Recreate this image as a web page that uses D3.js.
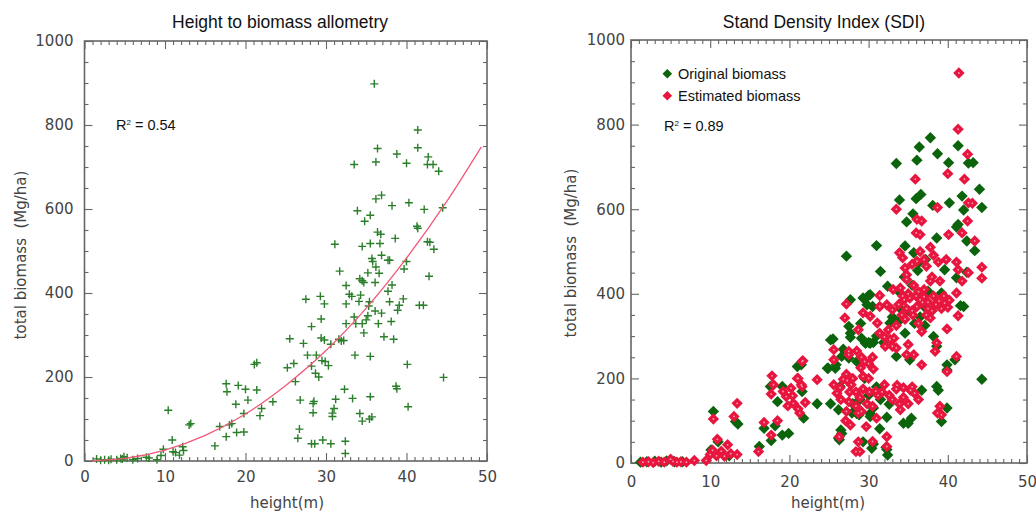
<!DOCTYPE html>
<html>
<head>
<meta charset="utf-8">
<script src="https://cdn.jsdelivr.net/npm/d3@7/dist/d3.min.js"></script>
<style>
  html, body { margin: 0; padding: 0; background: #fff; }
  svg { display: block; }
</style>
</head>
<body>
<svg id="chart" width="1036" height="513"></svg>
<script>
// ---------------- DATA ----------------
const xMajorTicks = [0, 10, 20, 30, 40, 50];
const yMajorTicks = [0, 200, 400, 600, 800, 1000];
const leftTitle = "Height to biomass allometry";
const rightTitle = "Stand Density Index (SDI)";
const leftR2 = "0.54";
const rightR2 = "0.89";
const seriesNames = ["Original biomass", "Estimated biomass"];

// Left panel: height (m), total biomass (Mg/ha)
const allometryPoints = [
  [36.0,898],[41.4,788],[41.4,746],[36.4,744],[38.8,731],[36.2,712],[33.5,706],[40.0,709],
  [42.7,724],[42.6,706],[43.3,706],[44.0,690],[36.9,633],[36.2,624],[33.9,596],[38.2,608],
  [40.3,615],[42.2,599],[44.5,603],[35.5,585],[34.8,571],[41.3,559],[41.4,554],[36.4,545],
  [36.8,540],[31.1,516],[34.5,511],[35.5,518],[36.7,518],[38.6,530],[42.6,522],[42.9,521],
  [43.4,504],[36.9,490],[35.7,482],[35.8,475],[37.7,478],[37.9,478],[40.0,475],[39.7,457],
  [31.7,452],[36.2,462],[36.6,447],[35.2,448],[34.2,434],[34.7,425],[34.5,429],[36.1,425],
  [32.5,418],[38.2,419],[32.9,397],[33.2,392],[34.3,395],[37.7,404],[42.8,440],[29.3,392],
  [27.5,385],[29.8,374],[32.5,374],[34.1,380],[35.4,379],[35.3,369],[37.9,379],[39.6,386],
  [39.1,371],[41.6,371],[42.1,371],[38.9,359],[36.1,357],[36.9,352],[35.2,346],[33.5,343],
  [35.0,336],[29.4,338],[32.5,327],[33.7,327],[34.5,327],[36.5,327],[38.1,332],[28.2,320],
  [34.7,305],[25.5,291],[29.4,293],[29.8,288],[27.2,280],[30.6,278],[31.6,290],[31.9,286],
  [32.2,287],[37.2,296],[38.4,290],[27.7,252],[28.8,252],[33.6,252],[35.5,249],[28.2,226],
  [29.5,239],[29.9,237],[30.3,227],[26.0,232],[25.2,222],[21.4,234],[21.1,230],[40.1,230],
  [28.7,209],[29.1,200],[26.2,189],[44.6,199],[17.6,184],[19.1,180],[20.0,171],[17.7,165],
  [21.4,169],[32.3,171],[38.7,178],[38.8,172],[20.3,145],[23.4,141],[26.8,145],[28.5,142],
  [28.4,137],[31.2,147],[33.3,149],[35.5,153],[18.8,135],[22.0,125],[31.0,125],[40.2,129],
  [10.4,121],[28.4,115],[30.8,114],[30.8,106],[34.2,113],[19.8,113],[21.8,108],[35.7,105],
  [35.4,100],[34.5,95],[13.2,89],[13.0,86],[18.3,89],[18.0,86],[16.8,82],[26.7,76],
  [18.9,68],[19.8,69],[17.6,58],[26.5,54],[10.9,50],[28.2,41],[28.6,41],[29.6,50],
  [30.6,41],[32.4,47],[32.4,18],[16.2,36],[9.8,28],[11.0,22],[11.3,20],[12.2,34],
  [12.3,25],[11.8,14],[9.5,13],[7.7,9],[6.6,6],[4.9,10],[4.7,5],[1.5,5],[2.0,2],
  [2.5,3],[3.0,2],[3.3,4],[4.0,3],[4.5,6],[5.3,8],[6.0,3],[8.0,7],[9.0,3]
];

// Fitted allometric curve
const fitCurve = [
  [1,0.5],[5,6],[10,26],[15,61],[20,112],[25,180],[30,263],[35,364],[40,483],[45,618],[49.3,748]
];

// Right panel: original biomass
const originalPoints = [
  [1.2,2],[2.0,3],[3.0,4],[3.8,2],[4.5,5],[5.5,3],[6.5,3],
  [10.1,31],[10.4,122],[11.0,50],[12.4,17],[13.5,92],[13.2,98],[16.2,39],[16.8,82],
  [17.6,181],[17.7,53],[18.5,145],[19.1,181],[19.1,66],[19.9,70],[18.2,88],[21.0,228],
  [21.5,232],[21.8,106],[21.6,169],[23.5,140],[24.8,224],[25.2,291],
  [37.8,769],[41.3,750],[36.4,747],[38.7,731],[36.1,716],[33.5,708],[40.1,710],[42.6,709],
  [43.2,710],[44.0,647],[44.3,604],[33.9,622],[36.0,625],[36.6,635],[38.1,609],[40.2,615],
  [41.8,631],[42.0,598],[34.8,570],[35.6,589],[41.1,558],[41.3,564],[38.6,532],[42.4,525],
  [43.4,502],[27.2,489],[31.0,514],[34.6,513],[31.5,453],[35.7,497],[37.2,481],[36.3,473],
  [39.6,457],[41.1,438],[42.4,451],[32.4,418],[30.2,398],[29.3,390],[29.8,374],[27.7,386],
  [34.0,402],[37.5,406],[39.2,402],[41.6,372],[42.0,370],[32.7,331],[33.8,335],[27.5,323],
  [27.7,307],[25.5,293],[27.7,297],[29.1,295],[29.6,283],[30.2,283],[31.9,285],[34.6,307],
  [37.1,325],[38.2,299],[38.6,276],[26.8,269],[27.5,248],[25.8,224],[24.9,224],[33.5,252],
  [35.2,244],[39.9,232],[39.9,220],[40.9,244],[38.6,181],[38.8,172],[36.7,172],[44.3,198],
  [26.4,181],[25.2,140],[26.2,126],[27.9,118],[28.8,114],[30.2,110],[30.6,130],[32.6,139],
  [34.4,94],[35.4,106],[35.0,94],[39.2,98],[39.9,130],[26.5,78],[26.2,59],[29.3,50],
  [30.4,35],[32.4,19],[32.3,32],[34.5,440],[35.5,420],[36.2,455],[35.0,360],[36.5,345],
  [37.0,370],[33.0,345],[38.0,360],[35.8,330],[34.0,365],[36.8,395],[30.5,370],[29.0,330],
  [31.0,300],[28.5,240],[27.0,200],[30.0,160],[31.0,180],[28.0,140],[29.5,200],[31.5,150],
  [25.9,232],[26.6,252],[30.0,396],[30.0,285],[30.6,285],[28.9,150],[30.2,117],[31.4,81],
  [32.3,108],[32.2,37],[30.6,45],[28.5,117],[28.2,137],[26.6,70],[26.3,55]
];

// Right panel: estimated biomass
const estimatedPoints = [
  [1.5,2],[2.2,3],[2.8,1],[3.5,4],[4.2,2],[5.0,9],[5.3,4],[5.8,2],[6.3,3],[7.0,2],[8.0,6],[9.5,6],
  [10.4,104],[10.9,56],[10.0,20],[10.3,30],[11.4,28],[12.2,43],[12.6,22],[11.8,16],[10.8,17],
  [13.4,20],[13.0,110],[13.4,141],[16.8,96],[16.1,27],[17.7,66],[17.8,206],[18.0,185],
  [17.7,163],[18.5,100],[19.2,169],[19.8,135],[19.6,157],[20.2,177],[20.4,159],[21.0,200],
  [21.5,185],[21.7,242],[22.0,143],[23.5,197],
  [41.4,922],[41.3,789],[42.5,730],[40.0,684],[35.9,671],[42.1,671],[33.5,600],[38.7,604],
  [42.6,615],[43.1,614],[42.5,572],[36.1,576],[36.7,572],[36.0,544],[36.5,540],[40.1,540],
  [41.8,544],[43.4,525],[33.9,497],[34.3,485],[34.6,461],[36.1,477],[37.0,481],[37.3,465],
  [38.2,491],[38.8,475],[39.8,481],[41.1,475],[41.3,457],[41.8,430],[42.6,450],[44.3,463],
  [44.3,437],[34.8,445],[34.8,434],[37.8,430],[35.2,390],[36.1,370],[36.5,386],[34.0,414],
  [33.1,410],[34.5,386],[33.8,375],[34.8,365],[35.5,360],[34.2,350],[33.0,362],[35.7,420],
  [36.3,405],[37.0,393],[37.5,380],[38.2,395],[38.9,383],[39.6,378],[40.0,368],[39.2,365],
  [38.0,360],[37.3,350],[41.1,402],[41.3,348],[37.8,343],[36.7,311],[38.6,284],[38.4,264],
  [39.9,317],[41.1,252],[39.9,216],[39.0,134],[39.2,114],[31.4,396],[31.4,370],[32.3,374],
  [27.2,376],[27.0,343],[29.3,355],[30.2,347],[28.7,315],[31.4,307],[32.0,298],[32.7,292],
  [33.0,276],[33.5,272],[33.2,295],[35.0,280],[34.8,256],[35.7,256],[36.7,232],[31.1,331],
  [32.1,276],[27.5,264],[27.5,256],[29.1,250],[29.5,240],[30.0,235],[30.6,222],[29.3,205],
  [30.0,200],[29.0,225],[25.6,268],[25.6,244],[27.2,210],[26.8,198],[27.3,195],[25.6,185],
  [26.4,178],[27.8,185],[27.6,168],[28.4,168],[29.3,175],[28.9,155],[30.1,168],[30.9,170],
  [31.7,168],[32.6,160],[33.0,150],[33.5,175],[33.6,184],[34.4,178],[34.4,155],[33.9,140],
  [35.3,172],[28.4,135],[28.7,118],[29.1,122],[27.2,122],[27.1,100],[27.7,90],[30.5,134],
  [31.0,106],[29.7,86],[34.0,126],[26.3,62],[28.7,50],[28.4,27],[28.9,27],[30.5,51],
  [32.3,62],[32.3,39],[21.6,240],[21.1,200],[21.6,181],[20.5,141],[21.1,128],[21.3,118],
  [35.0,140],[35.8,165],[36.3,150],[38.7,118],[35.5,180],
  [34.3,395],[35.0,400],[36.0,395],[36.8,380],[37.5,365],[38.5,375],[39.5,395],[40.2,385],
  [35.6,350],[34.6,340],[33.5,325],[32.5,315],[36.3,330],[37.0,410],[38.0,440],[39.0,430],
  [36.5,500],[37.8,510],[35.5,470],[26.5,150],[27.5,145],[29.8,140],[31.2,160],[32.0,185],
  [26.0,165],[28.0,200],[30.5,250],[28.5,265]
];

// ---------------- DRAWING ----------------
const svg = d3.select("#chart");
const axisColor = "#666";
const labelColor = "#444";
const tickFont = "'DejaVu Sans', Verdana, sans-serif";
const textFont = "'Liberation Sans', Arial, sans-serif";

const xMinor = d3.range(0, 51, 1).filter(v => v % 10 !== 0);
const yMinor = d3.range(0, 1001, 50).filter(v => v % 200 !== 0);

function panel(cfg) {
  const x = d3.scaleLinear().domain([0, 50]).range([cfg.left, cfg.right]);
  const y = d3.scaleLinear().domain([0, 1000]).range([cfg.bottom, cfg.top]);
  const g = svg.append("g");

  function styleAxis(sel) {
    sel.select(".domain").remove();
    sel.selectAll(".tick line").attr("stroke", axisColor).attr("stroke-width", 1.1);
    sel.selectAll("text").attr("fill", labelColor).style("font-family", tickFont).style("font-size", "15px");
  }
  g.append("g").attr("transform", `translate(0,${cfg.bottom})`)
    .call(d3.axisBottom(x).tickValues(xMajorTicks).tickSize(-8).tickPadding(cfg.xPad).tickFormat(d3.format("d")))
    .call(styleAxis);
  g.append("g").attr("transform", `translate(0,${cfg.bottom})`)
    .call(d3.axisBottom(x).tickValues(xMinor).tickSize(-4).tickFormat(""))
    .call(styleAxis);
  g.append("g").attr("transform", `translate(0,${cfg.top})`)
    .call(d3.axisTop(x).tickValues(xMajorTicks).tickSize(-8).tickFormat(""))
    .call(styleAxis);
  g.append("g").attr("transform", `translate(0,${cfg.top})`)
    .call(d3.axisTop(x).tickValues(xMinor).tickSize(-4).tickFormat(""))
    .call(styleAxis);
  g.append("g").attr("transform", `translate(${cfg.left},0)`)
    .call(d3.axisLeft(y).tickValues(yMajorTicks).tickSize(-8).tickPadding(cfg.yPad).tickFormat(d3.format("d")))
    .call(styleAxis);
  g.append("g").attr("transform", `translate(${cfg.left},0)`)
    .call(d3.axisLeft(y).tickValues(yMinor).tickSize(-4).tickFormat(""))
    .call(styleAxis);
  g.append("g").attr("transform", `translate(${cfg.right},0)`)
    .call(d3.axisRight(y).tickValues(yMajorTicks).tickSize(-8).tickFormat(""))
    .call(styleAxis);
  g.append("g").attr("transform", `translate(${cfg.right},0)`)
    .call(d3.axisRight(y).tickValues(yMinor).tickSize(-4).tickFormat(""))
    .call(styleAxis);

  g.append("rect")
    .attr("x", cfg.left).attr("y", cfg.top)
    .attr("width", cfg.right - cfg.left).attr("height", cfg.bottom - cfg.top)
    .attr("fill", "none").attr("stroke", axisColor).attr("stroke-width", 1.6);

  g.append("text").attr("x", cfg.titleX).attr("y", 28).attr("text-anchor", "middle")
    .style("font-family", textFont).style("font-size", "17.5px").attr("fill", "#111")
    .text(cfg.title);
  g.append("text").attr("x", cfg.xLabelX).attr("y", 508).attr("text-anchor", "middle")
    .style("font-family", tickFont).style("font-size", "15px").attr("fill", labelColor)
    .text("height(m)");
  g.append("text").attr("transform", `translate(${cfg.yLabelX},${cfg.yLabelY}) rotate(-90)`)
    .attr("text-anchor", "middle")
    .style("font-family", tickFont).style("font-size", "15px").attr("fill", labelColor)
    .style("white-space", "pre")
    .text("total biomass  (Mg/ha)");
  const r = g.append("text").attr("x", cfg.r2X).attr("y", cfg.r2Y)
    .style("font-family", textFont).style("font-size", "14.5px").attr("fill", "#111");
  r.append("tspan").text("R");
  r.append("tspan").attr("dy", -5).style("font-size", "8px").text("2");
  r.append("tspan").attr("dy", 5).text(" = " + cfg.r2);

  return { x, y, g };
}

// Left panel
const L = panel({ left: 84.5, right: 487, top: 41, bottom: 461, xPad: 10.5, yPad: 11,
  title: leftTitle, titleX: 280, xLabelX: 287, yLabelX: 26, yLabelY: 255,
  r2X: 116, r2Y: 129.5, r2: leftR2 });

const crossColor = "#2b7f2b";
L.g.append("g").selectAll("path").data(allometryPoints).join("path")
  .attr("d", d => {
    const cx = L.x(d[0]), cy = L.y(d[1]);
    return `M${cx-4},${cy}H${cx+4}M${cx},${cy-4}V${cy+4}`;
  })
  .attr("stroke", crossColor).attr("stroke-width", 1.4).attr("fill", "none");

L.g.append("path").datum(fitCurve)
  .attr("d", d3.line().x(d => L.x(d[0])).y(d => L.y(d[1])).curve(d3.curveMonotoneX))
  .attr("fill", "none").attr("stroke", "#f2587a").attr("stroke-width", 1.3);

// Right panel
const R = panel({ left: 631, right: 1027, top: 40, bottom: 463, xPad: 13.5, yPad: 6,
  title: rightTitle, titleX: 824, xLabelX: 828, yLabelX: 576, yLabelY: 253,
  r2X: 664, r2Y: 131, r2: rightR2 });

const green = "#0b640b";
const red = "#e8163f";
const dsize = 5.7;
function diamond(cx, cy, s) {
  return `M${cx},${cy-s}L${cx+s},${cy}L${cx},${cy+s}L${cx-s},${cy}Z`;
}
R.g.append("g").selectAll("path").data(originalPoints).join("path")
  .attr("d", d => diamond(R.x(d[0]), R.y(d[1]), dsize))
  .attr("fill", green);
R.g.append("g").selectAll("path").data(estimatedPoints).join("path")
  .attr("d", d => diamond(R.x(d[0]), R.y(d[1]), dsize))
  .attr("fill", red);
R.g.append("g").selectAll("circle").data(estimatedPoints).join("circle")
  .attr("cx", d => R.x(d[0])).attr("cy", d => R.y(d[1])).attr("r", 0.9)
  .attr("fill", "#f7a0b4");

const legend = R.g.append("g");
[[green, 73.7, seriesNames[0]], [red, 95.7, seriesNames[1]]].forEach(([c, yy, name]) => {
  legend.append("path").attr("d", diamond(667.3, yy, 4.8)).attr("fill", c);
  legend.append("text").attr("x", 678).attr("y", yy + 4.8)
    .style("font-family", textFont).style("font-size", "14.5px").attr("fill", "#111")
    .text(name);
});
</script>
</body>
</html>
